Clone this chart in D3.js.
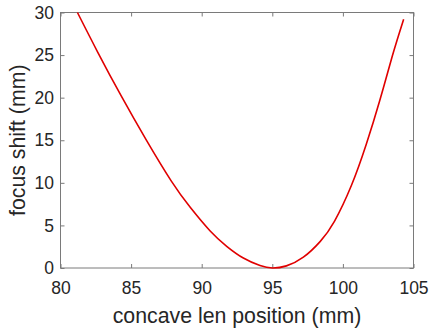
<!DOCTYPE html>
<html>
<head>
<meta charset="utf-8">
<script src="https://cdn.jsdelivr.net/npm/d3@7"></script>
<style>
  html, body { margin: 0; padding: 0; background: #ffffff; }
  svg { display: block; }
  text { font-family: "Liberation Sans", Arial, Helvetica, sans-serif; fill: #262626; }
</style>
</head>
<body>
<div id="chart"></div>
<script>
// Data
const positions = [81.2, 82.65, 84.3, 86.05, 87.85, 89.2, 90.6, 91.77, 92.95, 94.13, 95.0, 96.0, 97.2, 98.4, 99.4, 100.6, 101.65, 102.6, 103.5, 104.3];
const shifts    = [30.0, 25.3, 20.2, 15.1, 10.2, 7.1, 4.35, 2.55, 1.17, 0.29, 0.0, 0.25, 1.27, 3.13, 5.48, 9.68, 14.5, 19.6, 24.9, 29.2];
const xTicks = [80, 85, 90, 95, 100, 105];
const yTicks = [0, 5, 10, 15, 20, 25, 30];
const xLabel = "concave len position (mm)";
const yLabel = "focus shift (mm)";

const W = 433, H = 331;
const margin = { left: 60.5, top: 12.5, right: 19.5, bottom: 63 };
const iw = W - margin.left - margin.right;
const ih = H - margin.top - margin.bottom;

const svg = d3.select("#chart").append("svg")
  .attr("width", W).attr("height", H);

const g = svg.append("g").attr("transform", `translate(${margin.left},${margin.top})`);

const x = d3.scaleLinear().domain([80, 105]).range([0, iw]);
const y = d3.scaleLinear().domain([0, 30]).range([ih, 0]);

const axisColor = "#7a7a7a";
const tickLen = 4;

function styleAxis(sel) {
  sel.select(".domain").remove();
  sel.selectAll(".tick line").attr("stroke", axisColor).attr("stroke-width", 1);
  sel.selectAll(".tick text").attr("fill", "#262626").style("font-size", "17.5px")
    .style("font-family", '"Liberation Sans", Arial, Helvetica, sans-serif');
}

g.append("g").attr("transform", `translate(0,${ih})`)
  .call(d3.axisBottom(x).tickValues(xTicks).tickSizeInner(-tickLen).tickSizeOuter(0).tickPadding(13.5))
  .call(styleAxis);

g.append("g")
  .call(d3.axisTop(x).tickValues(xTicks).tickSizeInner(-tickLen).tickSizeOuter(0).tickFormat(""))
  .call(styleAxis);

g.append("g")
  .call(d3.axisLeft(y).tickValues(yTicks).tickSizeInner(-tickLen).tickSizeOuter(0).tickPadding(6.5))
  .call(styleAxis);

g.append("g").attr("transform", `translate(${iw},0)`)
  .call(d3.axisRight(y).tickValues(yTicks).tickSizeInner(-tickLen).tickSizeOuter(0).tickFormat(""))
  .call(styleAxis);

// box
g.append("rect")
  .attr("x", 0).attr("y", 0).attr("width", iw).attr("height", ih)
  .attr("fill", "none").attr("stroke", axisColor).attr("stroke-width", 1);

// curve
const pts = positions.map((p, i) => [p, shifts[i]]);
const line = d3.line()
  .x(d => x(d[0]))
  .y(d => y(d[1]))
  .curve(d3.curveNatural);

g.append("path")
  .datum(pts)
  .attr("d", line)
  .attr("fill", "none")
  .attr("stroke", "#e00000")
  .attr("stroke-width", 1.6)
  .attr("stroke-linejoin", "round");

// axis labels
svg.append("text")
  .attr("x", margin.left + iw / 2)
  .attr("y", 323)
  .attr("text-anchor", "middle")
  .style("font-size", "21.3px")
  .text(xLabel);

svg.append("text")
  .attr("transform", `translate(25,${margin.top + ih / 2}) rotate(-90)`)
  .attr("text-anchor", "middle")
  .style("font-size", "21.3px")
  .text(yLabel);
</script>
</body>
</html>
